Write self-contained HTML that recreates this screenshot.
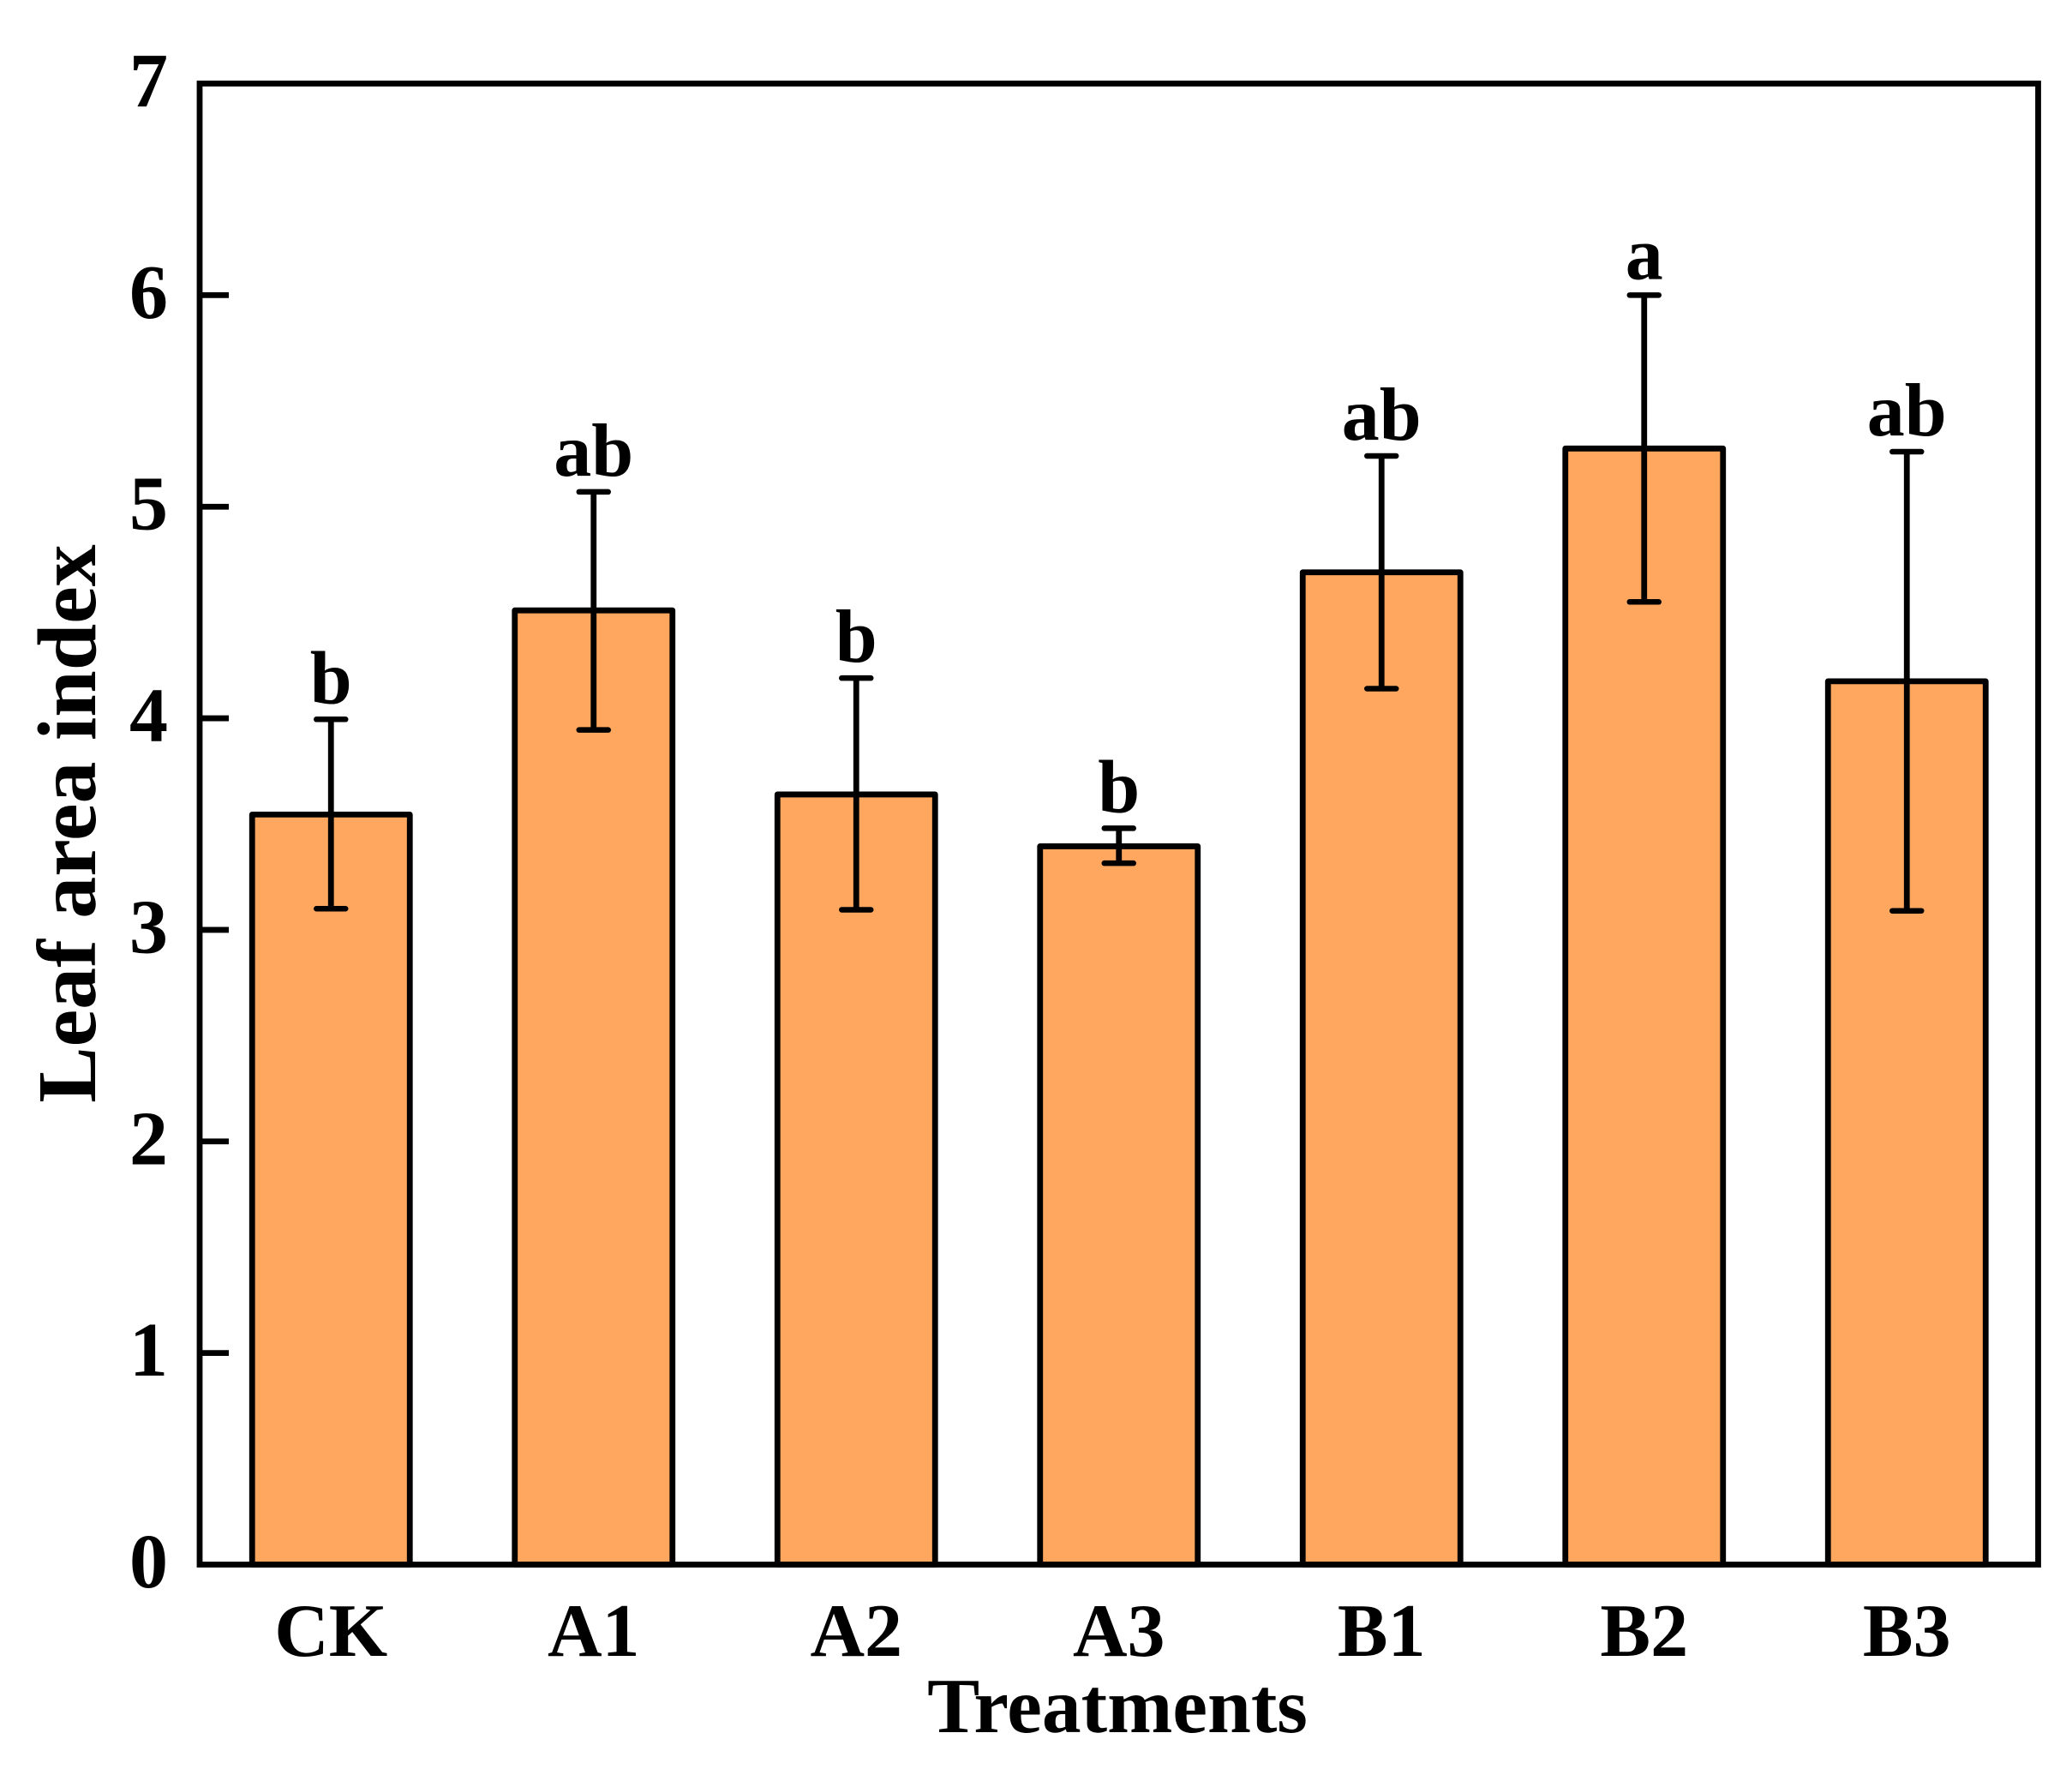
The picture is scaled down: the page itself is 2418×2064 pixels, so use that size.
<!DOCTYPE html>
<html lang="en">
<head>
<meta charset="utf-8">
<title>Leaf area index by treatment</title>
<style>
html,body{margin:0;padding:0;background:#fff;}
svg{display:block;}
text{font-family:"Liberation Serif",serif;font-weight:bold;fill:#000;}
</style>
</head>
<body>
<svg id="chart" xmlns="http://www.w3.org/2000/svg" width="2418" height="2064" viewBox="0 0 2418 2064">
<rect x="0" y="0" width="2418" height="2064" fill="#ffffff"/>
<g id="bars"></g>
<g id="errors"></g>
<g id="letters"></g>
<g id="yticks"></g>
<g id="xlabels"></g>
<rect x="233" y="97.5" width="2145.5" height="1728" fill="none" stroke="#000" stroke-width="6.8"/>
<text x="1304" y="2021" font-size="91.5" text-anchor="middle">Treatments</text>
<text transform="translate(111 961) rotate(-90)" font-size="98" text-anchor="middle">Leaf area index</text>
</svg>
<script>
const categories = ['CK', 'A1', 'A2', 'A3', 'B1', 'B2', 'B3'];
const means = [3.545, 4.51, 3.64, 3.395, 4.69, 5.275, 4.175];
const errorTops = [3.995, 5.07, 4.19, 3.48, 5.24, 6.0, 5.26];
const errorBottoms = [3.10, 3.945, 3.095, 3.315, 4.14, 4.55, 3.09];
const letters = ['b', 'ab', 'b', 'b', 'ab', 'a', 'ab'];
const yTickLabels = [0, 1, 2, 3, 4, 5, 6, 7];

const NS = 'http://www.w3.org/2000/svg';
const plotLeft = 233, plotRight = 2378.5, plotTop = 97.5, plotBottom = 1825.5;
const yMax = 7;
const band = (plotRight - plotLeft) / categories.length;
const barWidth = 184;
function xScale(i) { return plotLeft + band * (i + 0.5); }
function yScale(v) { return plotBottom - (v / yMax) * (plotBottom - plotTop); }
function make(tag, parentId) {
  const el = document.createElementNS(NS, tag);
  document.getElementById(parentId).appendChild(el);
  return el;
}
function line(el, x1, y1, x2, y2, width, cap) {
  el.setAttribute('x1', x1);
  el.setAttribute('y1', y1);
  el.setAttribute('x2', x2);
  el.setAttribute('y2', y2);
  el.setAttribute('stroke', '#000');
  el.setAttribute('stroke-width', width);
  el.setAttribute('stroke-linecap', cap);
}

categories.forEach(function (cat, i) {
  const cx = xScale(i);
  const key = cat.toLowerCase();

  const bar = make('rect', 'bars');
  
  
  bar.setAttribute('x', cx - barWidth / 2);
  bar.setAttribute('y', yScale(means[i]));
  bar.setAttribute('width', barWidth);
  bar.setAttribute('height', plotBottom - yScale(means[i]));
  bar.setAttribute('fill', '#FFA75F');
  bar.setAttribute('stroke', '#000');
  bar.setAttribute('stroke-width', '6.8');
  bar.setAttribute('stroke-linejoin', 'round');

  const stem = make('line', 'errors');
  
  
  line(stem, cx, yScale(errorTops[i]), cx, yScale(errorBottoms[i]), 6.8, 'butt');

  const capTop = make('line', 'errors');
  
  
  line(capTop, cx - 17, yScale(errorTops[i]), cx + 17, yScale(errorTops[i]), 6.5, 'round');

  const capBottom = make('line', 'errors');
  
  
  line(capBottom, cx - 17, yScale(errorBottoms[i]), cx + 17, yScale(errorBottoms[i]), 6.5, 'round');

  const letter = make('text', 'letters');
  
  
  letter.setAttribute('x', cx);
  letter.setAttribute('y', yScale(errorTops[i]) - 19);
  letter.setAttribute('font-size', '88');
  letter.setAttribute('text-anchor', 'middle');
  letter.textContent = letters[i];

  const label = make('text', 'xlabels');
  
  
  label.setAttribute('x', cx);
  label.setAttribute('y', 1932);
  label.setAttribute('font-size', '88');
  label.setAttribute('text-anchor', 'middle');
  label.textContent = cat;
});

yTickLabels.forEach(function (v) {
  const y = yScale(v);
  if (v > 0 && v < yMax) {
    const tick = make('line', 'yticks');
    
    
    line(tick, plotLeft, y, plotLeft + 34, y, 6.8, 'butt');
  }
  const label = make('text', 'yticks');
  
  
  label.setAttribute('x', 196);
  label.setAttribute('y', y + 26.5);
  label.setAttribute('font-size', '90');
  label.setAttribute('text-anchor', 'end');
  label.textContent = String(v);
});
</script>
</body>
</html>
